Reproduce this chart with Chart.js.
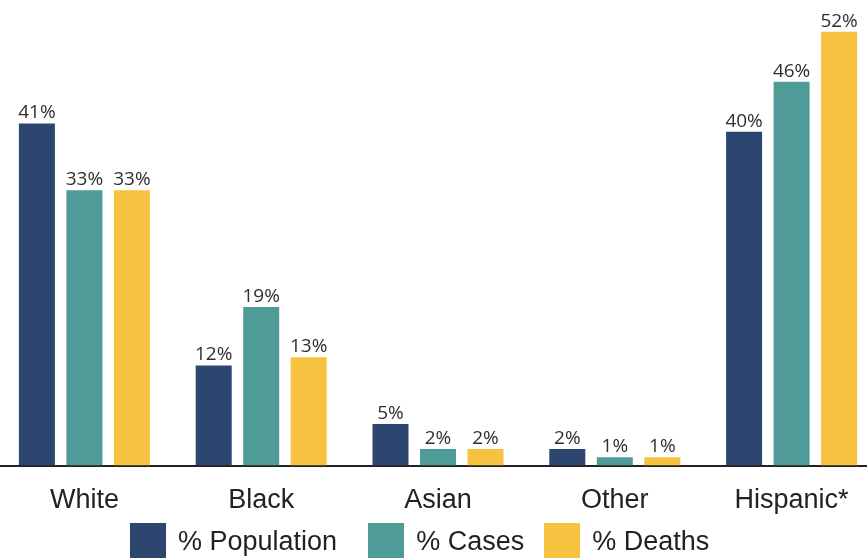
<!DOCTYPE html>
<html lang="en">
<head>
  <meta charset="UTF-8" />
  <title>Population, Cases and Deaths by Race/Ethnicity</title>
  <script src="https://cdn.jsdelivr.net/npm/chart.js"></script>
  <style>
    html, body {
      margin: 0;
      padding: 0;
      background: #fff;
      overflow: hidden;
      width: 867px;
      height: 558px;
    }
    .chart-box {
      position: absolute;
      left: -4px;
      top: 0;
      width: 884px;
      height: 536px;
    }
    .legend-container {
      position: absolute;
      left: 130px;
      top: 523px;
      display: flex;
      align-items: center;
      font-family: "Liberation Sans", Arial, sans-serif;
      font-size: 27px;
      color: #222;
      white-space: nowrap;
    }
    .legend-container span {
      display: flex;
      align-items: center;
      height: 36px;
    }
    .legend-container i {
      display: inline-block;
      width: 36px;
      height: 36px;
      margin-right: 12px;
    }
  </style>
</head>
<body>
  <div class="chart-box">
    <canvas id="raceChart"></canvas>
  </div>
  <div class="legend-container" id="legend"></div>

  <script>
    // values
    const groups = ['White', 'Black', 'Asian', 'Other', 'Hispanic*'];
    const population = [41, 12, 5, 2, 40];
    const cases = [33, 19, 2, 1, 46];
    const deaths = [33, 13, 2, 1, 52];
    const seriesNames = ['% Population', '% Cases', '% Deaths'];
    const seriesColors = ['#2c4670', '#4f9b98', '#f7c23f'];

    // writes "41%" etc. above each bar
    const valueLabels = {
      id: 'valueLabels',
      afterDatasetsDraw(chart) {
        const ctx = chart.ctx;
        ctx.save();
        ctx.font = '19px "Open Sans", sans-serif';
        ctx.fillStyle = '#2f2f2f';
        ctx.textAlign = 'center';
        ctx.textBaseline = 'alphabetic';
        chart.data.datasets.forEach((ds, i) => {
          chart.getDatasetMeta(i).data.forEach((bar, j) => {
            ctx.fillText(ds.data[j] + '%', bar.x, bar.y - 5);
          });
        });
        ctx.restore();
      }
    };

    const ctx = document.getElementById('raceChart').getContext('2d');
    new Chart(ctx, {
      type: 'bar',
      data: {
        labels: groups,
        datasets: [
          { label: seriesNames[0], data: population, backgroundColor: seriesColors[0] },
          { label: seriesNames[1], data: cases, backgroundColor: seriesColors[1] },
          { label: seriesNames[2], data: deaths, backgroundColor: seriesColors[2] }
        ]
      },
      options: {
        responsive: true,
        maintainAspectRatio: false,
        animation: false,
        categoryPercentage: 0.806,
        barPercentage: 0.758,
        layout: { padding: 0 },
        scales: {
          y: {
            display: false,
            min: 0,
            max: 55.8
          },
          x: {
            grid: { display: false, drawTicks: false },
            border: { color: '#222', width: 2 },
            ticks: {
              color: '#222',
              padding: 19,
              font: { family: 'Liberation Sans, Arial, sans-serif', size: 27 }
            }
          }
        },
        plugins: {
          legend: { display: false },
          tooltip: { enabled: false }
        }
      },
      plugins: [valueLabels]
    });

    // legend drawn as html, like the reference's boxed key
    const legendMargins = [31, 20, 0];
    document.getElementById('legend').innerHTML = seriesNames.map((name, i) =>
      '<span style="margin-right:' + legendMargins[i] + 'px"><i style="background:' +
      seriesColors[i] + '"></i>' + name + '</span>'
    ).join('');
  </script>
</body>
</html>
